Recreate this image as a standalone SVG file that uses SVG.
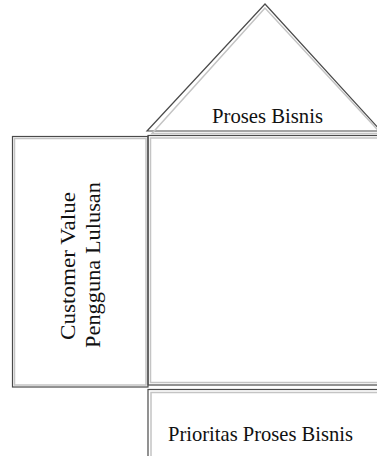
<svg xmlns="http://www.w3.org/2000/svg" width="377" height="456" viewBox="0 0 377 456">
<style>
.outer{fill:none;stroke:#4a4a4a;stroke-width:1.2}
.inner{fill:none;stroke:#c4c4c4;stroke-width:1.5}
.lbl{font-family:"Liberation Serif",serif;font-size:21px;fill:#111}
</style>
<rect width="377" height="456" fill="#fff"/>
<g id="proses-bisnis">
<polygon class="outer" points="265,4 147,131 381,131"/>
<polygon class="inner" points="265,8 152,133.5 381,133.5"/>
<text class="lbl" x="267.5" y="123" text-anchor="middle" textLength="111" lengthAdjust="spacingAndGlyphs">Proses Bisnis</text>
</g>
<g id="matrix">
<rect class="outer" x="148" y="135.5" width="240" height="249.5"/>
<rect class="inner" x="150.5" y="138" width="240" height="244.5"/>
</g>
<g id="customer-value">
<rect class="outer" x="12.5" y="136.5" width="135.5" height="250.5"/>
<rect class="inner" x="14.5" y="138.5" width="131.5" height="246.5"/>
<text class="lbl" transform="translate(75,266) rotate(-90)" text-anchor="middle" font-size="22" textLength="148" lengthAdjust="spacingAndGlyphs">Customer Value</text>
<text class="lbl" transform="translate(100,265) rotate(-90)" text-anchor="middle" font-size="22" textLength="166" lengthAdjust="spacingAndGlyphs">Pengguna Lulusan</text>
</g>
<g id="prioritas">
<rect class="outer" x="148" y="389.5" width="240" height="80"/>
<rect class="inner" x="151" y="392.5" width="240" height="80"/>
<text class="lbl" x="168" y="441" textLength="185" lengthAdjust="spacingAndGlyphs">Prioritas Proses Bisnis</text>
</g>
<g id="connectors"></g>
</svg>
